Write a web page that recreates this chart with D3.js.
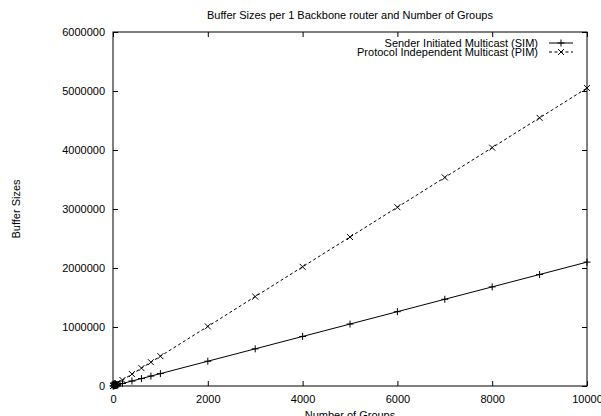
<!DOCTYPE html>
<html>
<head>
<meta charset="utf-8">
<script src="https://cdn.jsdelivr.net/npm/d3@7"></script>
<style>
  html, body { margin: 0; padding: 0; background: #fff; }
  text { font-family: "Liberation Sans", Arial, Helvetica, sans-serif; font-size: 11px; fill: #000; }
</style>
</head>
<body>
<svg id="chart" width="601" height="416"></svg>
<script>
// Number of multicast groups (x values)
const groups = [1, 10, 20, 30, 40, 50, 60, 70, 80, 90, 100, 200, 400, 600, 800, 1000,
                2000, 3000, 4000, 5000, 6000, 7000, 8000, 9000, 10000];
// Buffer sizes for Sender Initiated Multicast
const simSizes = [210, 2100, 4200, 6300, 8400, 10500, 12600, 14700, 16800, 18900, 21000,
                  42000, 84000, 126000, 168000, 210000, 420000, 630000, 840000, 1050000,
                  1260000, 1470000, 1680000, 1890000, 2100000];
// Buffer sizes for Protocol Independent Multicast
const pimSizes = [505, 5050, 10100, 15150, 20200, 25250, 30300, 35350, 40400, 45450, 50500,
                  101000, 202000, 303000, 404000, 505000, 1010000, 1515000, 2020000, 2525000,
                  3030000, 3535000, 4040000, 4545000, 5050000];
const xTicks = [0, 2000, 4000, 6000, 8000, 10000];
const yTicks = [0, 1000000, 2000000, 3000000, 4000000, 5000000, 6000000];
const seriesNames = ["Sender Initiated Multicast (SIM)", "Protocol Independent Multicast (PIM)"];

const svg = d3.select("#chart");
const plotL = 113, plotR = 587, plotT = 32, plotB = 386;

const x = d3.scaleLinear().domain([0, 10000]).range([plotL, plotR]);
const y = d3.scaleLinear().domain([0, 6000000]).range([plotB, plotT]);

// Frame
svg.append("rect")
  .attr("x", plotL).attr("y", plotT)
  .attr("width", plotR - plotL).attr("height", plotB - plotT)
  .attr("fill", "none").attr("stroke", "#000").attr("stroke-width", 1);

// Axes with inward ticks, mirrored on opposite sides
const tickLen = 5;
const xb = svg.append("g").attr("transform", `translate(0,${plotB})`)
  .call(d3.axisBottom(x).tickValues(xTicks).tickSize(-tickLen).tickPadding(9).tickFormat(d3.format("d")));
const xt = svg.append("g").attr("transform", `translate(0,${plotT})`)
  .call(d3.axisTop(x).tickValues(xTicks).tickSize(-tickLen).tickFormat(""));
const yl = svg.append("g").attr("transform", `translate(${plotL},0)`)
  .call(d3.axisLeft(y).tickValues(yTicks).tickSize(-tickLen).tickPadding(8).tickFormat(d3.format("d")));
const yr = svg.append("g").attr("transform", `translate(${plotR},0)`)
  .call(d3.axisRight(y).tickValues(yTicks).tickSize(-tickLen).tickFormat(""));
[xb, xt, yl, yr].forEach(g => {
  g.select(".domain").remove();
  g.selectAll("line").attr("stroke", "#000");
  g.selectAll("text").attr("font-size", null).attr("font-family", null).style("fill", "#000");
});

// Titles
svg.append("text").attr("x", (plotL + plotR) / 2).attr("y", 19)
  .attr("text-anchor", "middle").text("Buffer Sizes per 1 Backbone router and Number of Groups");
svg.append("text").attr("x", (plotL + plotR) / 2).attr("y", 419)
  .attr("text-anchor", "middle").text("Number of Groups");
svg.append("text").attr("transform", "translate(20,209) rotate(-90)")
  .attr("text-anchor", "middle").text("Buffer Sizes");

const simData = groups.map((g, i) => [g, simSizes[i]]);
const pimData = groups.map((g, i) => [g, pimSizes[i]]);
const line = d3.line().x(d => x(d[0])).y(d => y(d[1]));

svg.append("path").datum(simData).attr("d", line)
  .attr("fill", "none").attr("stroke", "#000").attr("stroke-width", 1);
svg.append("path").datum(pimData).attr("d", line)
  .attr("fill", "none").attr("stroke", "#000").attr("stroke-width", 1)
  .attr("stroke-dasharray", "3,2.5");

const plusPath = (cx, cy, s) => `M${cx - s},${cy}H${cx + s}M${cx},${cy - s}V${cy + s}`;
const crossPath = (cx, cy, s) => `M${cx - s},${cy - s}L${cx + s},${cy + s}M${cx - s},${cy + s}L${cx + s},${cy - s}`;

svg.append("g").selectAll("path").data(simData).join("path")
  .attr("d", d => plusPath(x(d[0]), y(d[1]), 3.5))
  .attr("stroke", "#000").attr("stroke-width", 1).attr("fill", "none");
svg.append("g").selectAll("path").data(pimData).join("path")
  .attr("d", d => crossPath(x(d[0]), y(d[1]), 3))
  .attr("stroke", "#000").attr("stroke-width", 1).attr("fill", "none");

// Legend
const legX = 538, lineX0 = 549, lineX1 = 573;
const rows = [43, 52];
seriesNames.forEach((name, i) => {
  const ry = rows[i];
  svg.append("text").attr("x", legX).attr("y", ry + 4)
    .attr("text-anchor", "end").text(name);
  svg.append("line").attr("x1", lineX0).attr("x2", lineX1).attr("y1", ry).attr("y2", ry)
    .attr("stroke", "#000").attr("stroke-width", 1)
    .attr("stroke-dasharray", i === 1 ? "3,2.5" : null);
  const mx = (lineX0 + lineX1) / 2;
  svg.append("path")
    .attr("d", i === 0 ? plusPath(mx, ry, 3.5) : crossPath(mx, ry, 3))
    .attr("stroke", "#000").attr("stroke-width", 1).attr("fill", "none");
});
</script>
</body>
</html>
